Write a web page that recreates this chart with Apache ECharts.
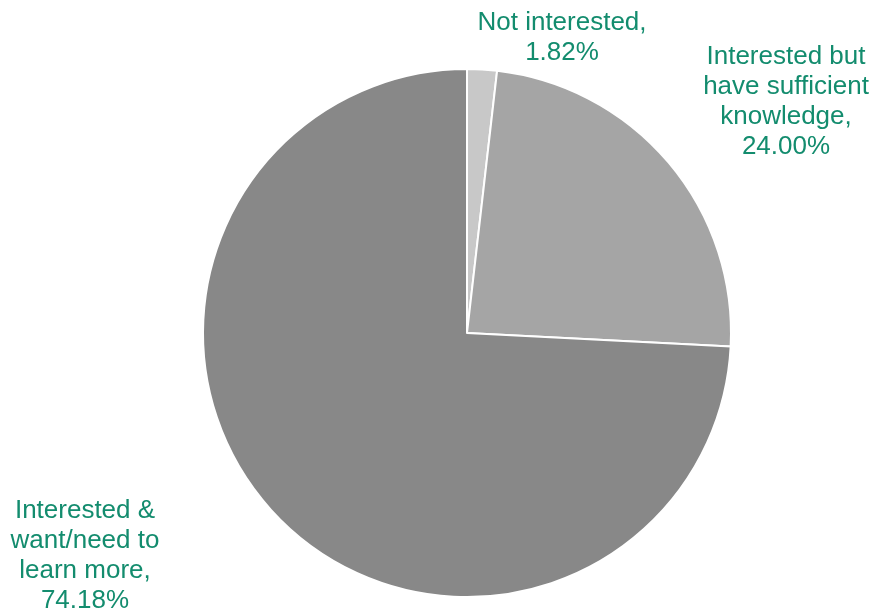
<!DOCTYPE html>
<html>
<head>
<meta charset="utf-8">
<style>
  html, body { margin: 0; padding: 0; background: #ffffff; }
  #chart { width: 878px; height: 615px; }
</style>
<script src="https://cdn.jsdelivr.net/npm/echarts@6/dist/echarts.min.js"></script>
</head>
<body>
<div id="chart"></div>
<script>
// Survey responses: interest in learning more
const categories = [
  'Not interested',
  'Interested but\nhave sufficient\nknowledge',
  'Interested &\nwant/need to\nlearn more'
];
const shares = [1.82, 24.00, 74.18];
const sliceColors = ['#c8c8c8', '#a5a5a5', '#888888'];

// Label block centres (px) for each slice
const labelSpots = [
  [562, 38],
  [786, 102],
  [85, 556]
];

const chart = echarts.init(document.getElementById('chart'), null, { renderer: 'canvas' });

chart.setOption({
  animation: false,
  backgroundColor: '#ffffff',
  series: [{
    type: 'pie',
    center: [467, 333],
    radius: 264,
    startAngle: 90,
    clockwise: true,
    data: categories.map((name, i) => ({
      name: name,
      value: shares[i],
      itemStyle: { color: sliceColors[i] }
    })),
    itemStyle: { borderColor: '#ffffff', borderWidth: 2 },
    label: {
      show: true,
      position: 'outside',
      formatter: p => p.name + ',\n' + p.value.toFixed(2) + '%',
      fontFamily: 'Liberation Sans, Arial, sans-serif',
      fontSize: 26,
      lineHeight: 30,
      color: '#138c6e',
      align: 'center',
      overflow: 'none',
      width: 300
    },
    labelLine: { show: false },
    labelLayout: params => ({
      x: labelSpots[params.dataIndex][0],
      y: labelSpots[params.dataIndex][1],
      align: 'center',
      verticalAlign: 'middle'
    }),
    emphasis: { disabled: true }
  }]
});
</script>
</body>
</html>
